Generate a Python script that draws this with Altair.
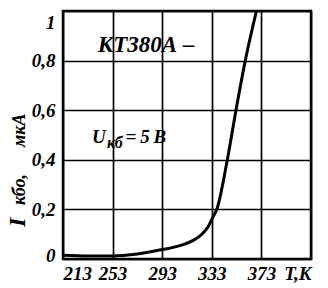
import altair as alt
import pandas as pd

# curve I_KBO(T)
T = [213, 233, 253, 273, 293, 308, 318, 325, 330, 334, 337, 345.5, 352.5, 360, 369]
I = [0.015, 0.012, 0.012, 0.02, 0.038, 0.055, 0.075, 0.1, 0.13, 0.17, 0.2, 0.4, 0.6, 0.8, 1.0]

x_ticks = [213, 253, 293, 333, 373, 413]
x_labels = ["213", "253", "293", "333", "373", "T,K"]
y_ticks = [0, 0.2, 0.4, 0.6, 0.8, 1.0]
y_labels = ["0", "0,2", "0,4", "0,6", "0,8", "1"]

# annotations inside plot (data coordinates)
ann_text = ["КТ380А –", "U", "кб", "=\u20095\u2009В"]
ann_T = [241.0, 236.4, 248.5, 263.5]
ann_I = [0.835, 0.468, 0.448, 0.468]
ann_size = [23, 19, 16, 19]

# rotated y-axis title pieces (pixel offsets relative to the plot area)
ytitle_text = ["I", "кбо,", "мкА"]
ytitle_py = [216, 194, 136]
ytitle_size = [24, 18, 18]

FONT = "Liberation Sans Narrow"
WEIGHT = "bold"


def label_expr(ticks, labels):
    expr = "datum.label"
    for t, l in zip(ticks, labels):
        expr = f"abs(datum.value - {t}) < 1e-6 ? '{l}' : ({expr})"
    return expr


df = pd.DataFrame({"T": T, "I": I})
ann = pd.DataFrame({"text": ann_text, "T": ann_T, "I": ann_I, "size": ann_size})

xscale = alt.Scale(domain=[213, 413], nice=False, zero=False)
yscale = alt.Scale(domain=[0, 1], nice=False)

xaxis = alt.Axis(values=x_ticks, labelExpr=label_expr(x_ticks, x_labels), title=None,
                 ticks=False, domain=False, grid=True, labelFlush=True, labelPadding=5)
yaxis = alt.Axis(values=y_ticks, labelExpr=label_expr(y_ticks, y_labels), title=None,
                 ticks=False, domain=False, grid=True, labelFlush=False, labelPadding=8,
                 labelOffset={"condition": [{"test": "datum.value == 1", "value": 11},
                                            {"test": "datum.value == 0", "value": -4}],
                              "value": 0})

line = alt.Chart(df).mark_line(color="black", strokeWidth=3, interpolate="monotone").encode(
    x=alt.X("T:Q", scale=xscale, axis=xaxis),
    y=alt.Y("I:Q", scale=yscale, axis=yaxis),
)

texts = alt.Chart(ann).mark_text(font=FONT, fontStyle="italic", fontWeight=WEIGHT, align="left",
                                  baseline="alphabetic", color="black").encode(
    x=alt.X("T:Q", scale=xscale),
    y=alt.Y("I:Q", scale=yscale),
    text="text:N",
    size=alt.Size("size:Q", scale=None, legend=None),
)

layers = [line, texts]
for txt, py, sz in zip(ytitle_text, ytitle_py, ytitle_size):
    layers.append(
        alt.Chart(df).mark_text(font=FONT, fontStyle="italic", fontWeight=WEIGHT, angle=270,
                                align="left", baseline="alphabetic", color="black",
                                fontSize=sz, text=txt).encode(
            x=alt.value(-38), y=alt.value(py)
        ).transform_filter("datum.T == 213")
    )

chart = alt.layer(*layers).properties(
    width=248, height=248,
    autosize=alt.AutoSizeParams(type="none"),
    padding={"left": 63, "top": 11, "right": 17, "bottom": 29},
    background="white",
).configure_view(stroke="black", strokeWidth=2.5).configure_axis(
    gridColor="black", gridOpacity=1, gridWidth=1.7,
    labelFont=FONT, labelFontStyle="italic", labelFontWeight=WEIGHT,
    labelFontSize=19, labelColor="black",
)

chart.save("out.html", embed_options={"renderer": "svg", "actions": False})
